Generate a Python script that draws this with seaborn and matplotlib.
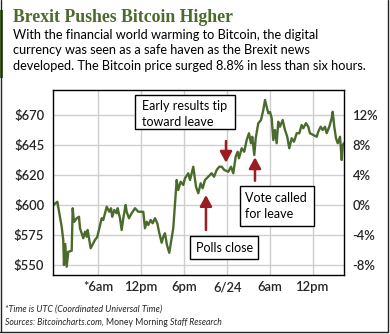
import matplotlib
matplotlib.use("Agg")
import matplotlib.pyplot as plt
import seaborn as sns
import pandas as pd
from matplotlib.patches import Rectangle
from matplotlib.lines import Line2D

# ---------------- data ----------------
hours = [-0.29, 0.27, 0.88, 1.10, 1.20, 1.38, 1.58, 1.80, 2.28, 2.42, 2.60, 2.98, 3.30, 3.44,
         3.90, 4.14, 4.37, 4.51, 4.93, 5.53, 5.85, 6.47, 6.69, 7.17, 7.53, 7.77, 7.95, 8.23,
         8.56, 8.70, 9.03, 9.26, 9.49, 9.82, 9.96, 10.28, 10.66, 11.12, 11.58, 12.28, 12.52,
         12.76, 12.98, 13.32, 13.59, 13.92, 14.24, 14.48, 14.85, 15.08, 15.31, 15.59, 15.91,
         16.47, 16.95, 17.17, 17.51, 17.87, 18.11, 18.57, 18.81, 19.27, 19.65, 19.97, 20.30,
         20.58, 20.90, 21.36, 21.84, 22.16, 22.54, 22.90, 23.24, 23.60, 24.16, 24.54, 24.86,
         25.19, 25.47, 25.65, 26.03, 26.39, 26.73, 27.05, 27.33, 27.51, 27.79, 27.99, 28.35,
         28.73, 29.05, 29.29, 29.53, 29.75, 29.99, 30.22, 30.45, 30.68, 30.92, 31.14, 31.38,
         31.76, 32.08, 32.40, 32.68, 33.02, 33.34, 33.72, 34.08, 34.41, 34.64, 35.01, 35.34,
         35.57, 36.03, 36.51, 36.73, 37.07, 37.35, 37.67, 37.91, 38.27, 38.61, 38.75, 38.97,
         39.21, 39.45, 39.77, 40.01, 40.15, 40.32]
prices = [600.0, 602.6, 582.6, 572.0, 552.0, 568.8, 550.6, 562.6, 563.4, 597.4, 586.4, 589.4,
          590.6, 581.4, 573.4, 578.6, 574.6, 580.0, 565.4, 572.0, 574.4, 589.4, 588.0, 598.6,
          594.6, 597.4, 590.6, 596.0, 593.4, 597.4, 589.4, 580.0, 589.4, 600.0, 594.6, 589.4,
          593.4, 597.4, 594.6, 594.6, 581.4, 586.6, 584.0, 588.0, 585.4, 589.4, 585.4, 578.6,
          569.8, 574.6, 577.4, 568.0, 561.8, 581.4, 620.0, 612.0, 618.6, 616.0, 621.4, 625.4,
          620.0, 630.6, 614.6, 609.4, 617.4, 613.4, 620.0, 622.6, 625.4, 622.6, 628.0, 630.6,
          630.6, 628.0, 626.6, 630.6, 625.4, 638.6, 642.6, 637.4, 645.4, 642.6, 652.0, 657.4,
          649.4, 654.6, 640.0, 653.4, 665.4, 668.0, 676.0, 684.0, 678.6, 673.4, 674.4, 669.6,
          652.0, 660.0, 649.4, 666.6, 662.6, 668.0, 660.0, 654.6, 645.4, 653.4, 650.6, 657.4,
          657.4, 664.0, 661.4, 665.4, 662.6, 657.4, 656.0, 654.6, 658.6, 662.6, 660.0, 662.6,
          657.4, 662.6, 669.4, 674.6, 662.6, 653.4, 649.4, 654.6, 636.0, 648.0, 649.4]

x_tick_hours = [6, 12, 18, 24, 30, 36]
x_tick_labels = ["*6am", "12pm", "6pm", "6/24", "6am", "12pm"]
price_ticks = [552, 576, 600, 624, 648, 672]
price_tick_labels = ["$550", "$575", "$600", "$620", "$645", "$670"]
pct_ticks = [-8, -4, 0, 4, 8, 12]
pct_tick_labels = ["-8%", "-4%", "0%", "4%", "8%", "12%"]
base_price = 600

title = "Brexit Pushes Bitcoin Higher"
subtitle = ["With the financial world warming to Bitcoin, the digital",
            "currency was seen as a safe haven as the Brexit news",
            "developed. The Bitcoin price surged 8.8% in less than six hours."]
footer1 = "*Time is UTC (Coordinated Universal Time)"
footer2 = [("Sources: Bitcoincharts.com, ", "italic"), ("Money Morning ", "normal"),
           ("Staff Research", "italic")]

# events: label, hour, arrow tail price, arrow head price
event_labels = ["Polls close", "Early results tip\ntoward leave", "Vote called\nfor leave"]
event_hours = [21.04, 23.84, 27.89]
event_tail = [580.0, 651.2, 619.4]
event_head = [608.0, 633.8, 638.2]

# ---------------- style ----------------
sns.set_theme(style="white")
plt.rcParams['font.family'] = ['Lato', 'DejaVu Sans']

GREEN = "#4b6b2c"
RED = "#9b1c22"
GRID = "#cfcfcf"
TXT = "#262626"

W, H = 390, 334
fig = plt.figure(figsize=(W / 100, H / 100), dpi=100)
fig.patch.set_facecolor("white")
renderer = fig.canvas.get_renderer()


def fx(x):
    return x / W


def fy(y):
    return 1 - y / H


def put(s, x, y, size, target_w=None, **kw):
    t = fig.text(fx(x), fy(y), s, fontsize=size, **kw)
    if target_w:
        w = t.get_window_extent(renderer).width
        t.set_fontsize(size * target_w / w)
    return t


# ---------------- axes ----------------
ax = fig.add_axes([53.3 / W, fy(275), 291 / W, 185 / H])
df = pd.DataFrame({"hour": hours, "price": prices})
sns.lineplot(data=df, x="hour", y="price", ax=ax, color=GREEN, linewidth=1.7)

ax.set_xlim(-0.29, 40.37)
ylim = (544, 692)
ax.set_ylim(*ylim)
ax.set_xticks(x_tick_hours)
ax.set_xticklabels(x_tick_labels)
ax.set_yticks(price_ticks)
ax.set_yticklabels(price_tick_labels)
ax.set_xlabel("")
ax.set_ylabel("")
ax.grid(True, color=GRID, linewidth=1.0)
ax.set_axisbelow(True)
for sp in ax.spines.values():
    sp.set_color("black")
    sp.set_linewidth(1.0)
ax.tick_params(axis="both", length=0, labelsize=9.4, labelcolor=TXT)
ax.tick_params(axis="y", pad=6.5)
ax.tick_params(axis="x", pad=4.5)

ax2 = ax.twinx()
ax2.set_ylim((ylim[0] / base_price - 1) * 100, (ylim[1] / base_price - 1) * 100)
ax2.set_yticks(pct_ticks)
ax2.set_yticklabels(pct_tick_labels)
ax2.tick_params(axis="y", length=0, labelsize=9.4, labelcolor=TXT, pad=6)
for sp in ax2.spines.values():
    sp.set_visible(False)
ax2.grid(False)

for lab in ax.get_xticklabels() + ax.get_yticklabels() + ax2.get_yticklabels():
    lab.set_fontweight("semibold")

# arrows
for hx, yt, yh in zip(event_hours, event_tail, event_head):
    ax.annotate("", xy=(hx, yh), xytext=(hx, yt),
                arrowprops=dict(arrowstyle="-|>,head_length=0.55,head_width=0.3",
                                color=RED, lw=1.8, shrinkA=0, shrinkB=0))

# annotation boxes (pixel layout)
boxes = [(190, 236, 68, 23), (135, 95, 100, 34), (240, 186, 74, 40)]
text_pos = [[(196, 247.5)], [(142, 106), (142, 121.5)], [(245, 198), (245, 213.5)]]
for lab, (bx, by, bw, bh), tps in zip(event_labels, boxes, text_pos):
    fig.patches.append(Rectangle((fx(bx), fy(by + bh)), bw / W, bh / H,
                                 transform=fig.transFigure, facecolor="white",
                                 edgecolor="black", linewidth=1.0, zorder=5))
    for line, (tx, ty) in zip(lab.split("\n"), tps):
        t = fig.text(fx(tx), fy(ty), line, fontsize=9.0, color="black",
                     va="center", ha="left", zorder=6)

# ---------------- titles ----------------
put(title, 13, 17, 12, target_w=219, family=["Liberation Serif", "DejaVu Serif"],
    fontweight="bold", color=GREEN, va="center")
t3 = fig.text(fx(13), fy(70), subtitle[2], fontsize=9, color="black", va="baseline")
w3 = t3.get_window_extent(renderer).width
sub_size = 9 * 357 / w3
t3.set_fontsize(sub_size)
fig.text(fx(13), fy(39), subtitle[0], fontsize=sub_size, color="black", va="baseline")
fig.text(fx(13), fy(54.5), subtitle[1], fontsize=sub_size, color="black", va="baseline")

# footer
put(footer1, 5, 309, 6.4, fontstyle="italic", color=TXT, va="center")
xcur = 5
for s, st in footer2:
    t = fig.text(fx(xcur), fy(322.5), s, fontsize=6.2, fontstyle=st, color=TXT, va="center")
    xcur += t.get_window_extent(renderer).width

# frame and green bar
fig.lines.append(Line2D([fx(0.7), fx(0.7)], [fy(0), fy(332)], transform=fig.transFigure,
                        color="#222222", lw=1.0))
fig.lines.append(Line2D([fx(387.5), fx(387.5)], [fy(0), fy(332)], transform=fig.transFigure,
                        color="#222222", lw=1.0))
fig.lines.append(Line2D([fx(0), fx(388)], [fy(331.5), fy(331.5)], transform=fig.transFigure,
                        color="#222222", lw=1.0))
fig.patches.append(Rectangle((0, fy(78)), 3 / W, 68 / H, transform=fig.transFigure,
                             facecolor=GREEN, edgecolor="none"))

fig.savefig("out.png", dpi=100, facecolor="white")
